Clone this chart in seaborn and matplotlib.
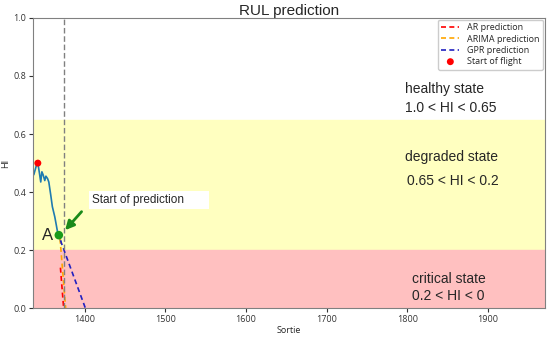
import seaborn as sns
import matplotlib.pyplot as plt

# health index history
sortie = [1337, 1340, 1342, 1344, 1345.6, 1347, 1348.5, 1350.6, 1352, 1354, 1355.6,
          1358, 1360, 1363, 1365, 1366.4, 1368, 1369.5, 1371]
hi = [0.46, 0.49, 0.50, 0.465, 0.435, 0.47, 0.46, 0.44, 0.455, 0.447, 0.435,
      0.39, 0.35, 0.315, 0.285, 0.263, 0.252, 0.24, 0.224]

# predictions (start, end)
ar_x = [1370, 1374]
ar_y = [0.14, 0.0]
arima_x = [1369.5, 1376.5]
arima_y = [0.24, 0.0]
gpr_x = [1370, 1401]
gpr_y = [0.234, 0.0]

flight_x = [1342]
flight_y = [0.50]
a_x = [1368]
a_y = [0.252]
pred_start = 1374

sns.set_style("white")
fig, ax = plt.subplots(figsize=(5.5, 3.37), dpi=100)

ax.axhspan(0.65, 1.0, color="white", zorder=0)
ax.axhspan(0.2, 0.65, color="#ffffc0", zorder=0)
ax.axhspan(0.0, 0.2, color="#ffc0c0", zorder=0)

dash = (0, (3, 2))
sns.lineplot(x=sortie, y=hi, color="#1f7bb0", lw=1.2, ax=ax, sort=False)
sns.lineplot(x=ar_x, y=ar_y, color="red", ls=dash, lw=1.2, ax=ax, label="AR prediction")
sns.lineplot(x=arima_x, y=arima_y, color="orange", ls=dash, lw=1.2, ax=ax, label="ARIMA prediction")
sns.lineplot(x=gpr_x, y=gpr_y, color="#2020c0", ls=dash, lw=1.2, ax=ax, label="GPR prediction")
sns.scatterplot(x=flight_x, y=flight_y, color="red", s=25, ax=ax,
                label="Start of flight", zorder=5, edgecolor="none")
sns.scatterplot(x=a_x, y=a_y, color="#1a9a1a", s=38, ax=ax,
                zorder=5, edgecolor="none")

ax.axvline(pred_start, color="gray", ls=(0, (4, 2)), lw=1)

ax.annotate("", xy=(1373.5, 0.262), xytext=(1398.5, 0.34),
            arrowprops=dict(arrowstyle="-|>", color="#1a8a1a", lw=2, mutation_scale=13))
ax.text(1409, 0.372, "Start of prediction       ", fontsize=8.5, va="center",
        family="Liberation Sans",
        bbox=dict(facecolor="white", edgecolor="none", pad=2))
ax.text(1354, 0.252, "A", fontsize=12, ha="center", va="center", family="Liberation Sans")

for y, s in [(0.755, "healthy state"), (0.69, "1.0 < HI < 0.65"),
             (0.52, "degraded state")]:
    ax.text(1797, y, s, fontsize=10, va="center", family="Liberation Sans")
ax.text(1799, 0.44, "0.65 < HI < 0.2", fontsize=10, va="center", family="Liberation Sans")
ax.text(1851, 0.10, "critical state", fontsize=10, ha="center", va="center",
        family="Liberation Sans")
ax.text(1851, 0.041, "0.2 < HI < 0", fontsize=10, ha="center", va="center",
        family="Liberation Sans")

ax.set_xlim(1336, 1970)
ax.set_ylim(0, 1.0)
ax.set_xticks([1400, 1500, 1600, 1700, 1800, 1900])
ax.set_yticks([0.0, 0.2, 0.4, 0.6, 0.8, 1.0])
ax.tick_params(labelsize=6.5, length=3, width=0.8, colors="#333333", pad=2,
               bottom=True, left=True)
for lab in ax.get_xticklabels() + ax.get_yticklabels():
    lab.set_family("Open Sans")
ax.set_xlabel("Sortie", fontsize=6.5, family="Open Sans", labelpad=1)
ax.set_ylabel("HI", fontsize=6.5, family="Open Sans", labelpad=2)
for sp in ax.spines.values():
    sp.set_color("gray")
ax.set_title("RUL prediction", fontsize=11, pad=2, family="Liberation Sans")
ax.legend(loc="upper right", prop={"family": "Open Sans", "size": 6.5}, framealpha=1,
          handlelength=2, labelspacing=0.25, borderaxespad=0.2, borderpad=0.4)

plt.subplots_adjust(left=0.06, right=0.99, top=0.947, bottom=0.085)
plt.savefig("out.png", dpi=100)
